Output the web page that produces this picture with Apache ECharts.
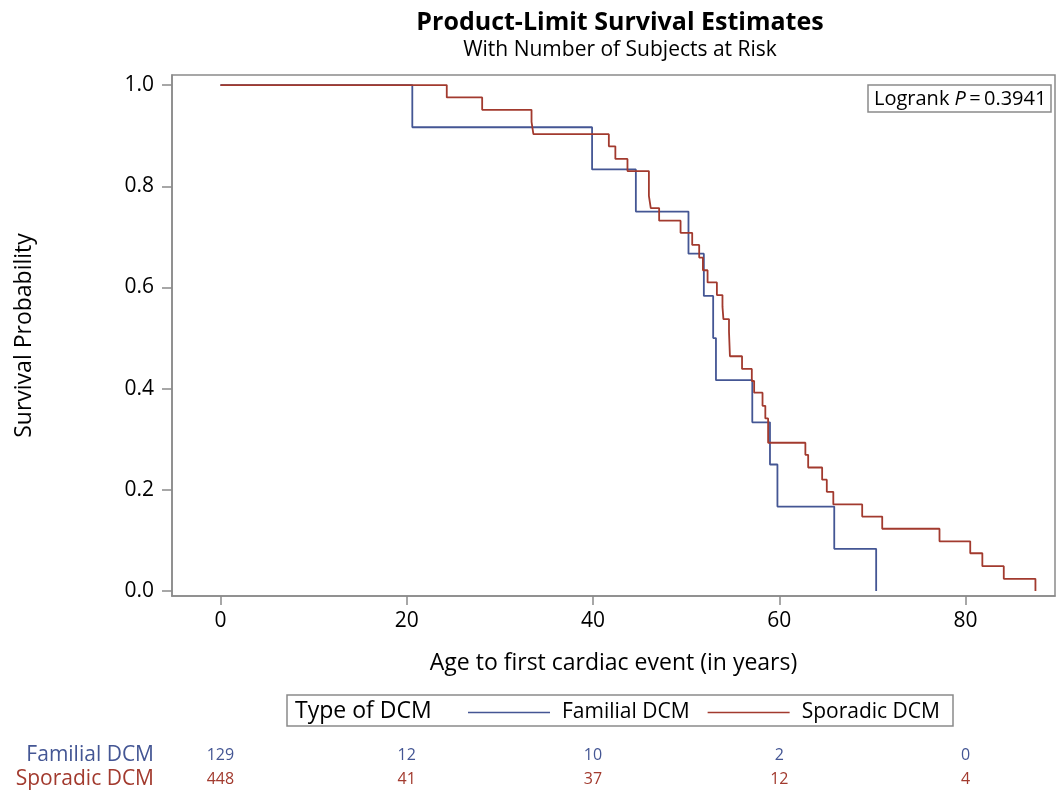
<!DOCTYPE html>
<html>
<head>
<meta charset="utf-8">
<script src="https://cdn.jsdelivr.net/npm/echarts@6/dist/echarts.min.js"></script>
<style>
html,body{margin:0;padding:0;background:#fff;}
#chart{width:1064px;height:794px;}
</style>
</head>
<body>
<div id="chart"></div>
<script>
// ---- Data ----
const familialTimes = [0, 20.6, 39.9, 44.6, 50.25, 51.9, 52.9, 53.2, 57.1, 59.0, 59.8, 65.9, 70.4];
const familialSurv  = [1, 0.9167, 0.8333, 0.75, 0.6667, 0.5833, 0.5, 0.4167, 0.3333, 0.25, 0.1667, 0.0833, 0];

const sporadicTimes = [0, 24.3, 28.1, 33.4, 33.6, 41.7, 42.4, 43.7, 46.0, 46.2, 47.1, 49.4, 50.65, 51.4, 51.8, 52.3, 53.3, 53.9, 54.0, 54.6, 54.7, 56.0, 57.05, 57.3, 58.2, 58.5, 58.8, 62.8, 63.1, 64.6, 65.1, 65.8, 68.9, 71.05, 77.2, 80.5, 81.8, 84.1, 87.5];
const sporadicSurv  = [1, 0.9756, 0.9512, 0.9275, 0.903, 0.879, 0.854, 0.830, 0.781, 0.757, 0.732, 0.708, 0.684, 0.659, 0.634, 0.610, 0.585, 0.562, 0.5375, 0.5125, 0.464, 0.439, 0.415, 0.392, 0.366, 0.341, 0.293, 0.269, 0.244, 0.220, 0.196, 0.171, 0.147, 0.123, 0.098, 0.0745, 0.049, 0.024, 0];

const xTicks = [0, 20, 40, 60, 80];
const yTicks = [0, 0.2, 0.4, 0.6, 0.8, 1.0];
const groups = ['Familial DCM', 'Sporadic DCM'];
const atRiskTimes = [0, 20, 40, 60, 80];
const atRiskFamilial = [129, 12, 10, 2, 0];
const atRiskSporadic = [448, 41, 37, 12, 4];

// ---- Build chart ----
const BLUE = '#445694', RED = '#A23A2E', GRAY = '#8a8a8a';
const FONT = 'Open Sans';
const pair = (t, s) => t.map((v, i) => [v, s[i]]);

const chart = echarts.init(document.getElementById('chart'), null, {renderer: 'canvas'});
chart.setOption({
  animation: false,
  textStyle: {fontFamily: FONT},
  grid: [
    {left: 172, right: 9, top: 75, bottom: 198, show: true, borderColor: GRAY, borderWidth: 1.5, containLabel: false},
    {left: 172, right: 9, top: 743, height: 48, show: false}
  ],
  xAxis: [
    {
      gridIndex: 0, type: 'value', min: -5.2, max: 89.6,
      name: 'Age to first cardiac event (in years)', nameLocation: 'middle', nameGap: 56,
      nameTextStyle: {fontSize: 23, color: '#000', fontFamily: FONT},
      axisLine: {show: true, onZero: false, lineStyle: {color: GRAY, width: 1.5}},
      axisTick: {show: true, length: 9, lineStyle: {color: GRAY, width: 1.5}, customValues: xTicks},
      axisLabel: {fontSize: 21, color: '#000', margin: 15, customValues: xTicks, fontFamily: FONT},
      splitLine: {show: false}
    },
    {gridIndex: 1, type: 'value', min: -5.2, max: 89.6, show: false}
  ],
  yAxis: [
    {
      gridIndex: 0, type: 'value', min: -0.01, max: 1.02,
      name: 'Survival Probability', nameLocation: 'middle', nameGap: 136, nameRotate: 90,
      nameTextStyle: {fontSize: 23, color: '#000', fontFamily: FONT},
      axisLine: {show: true, onZero: false, lineStyle: {color: GRAY, width: 1.5}},
      axisTick: {show: true, length: 10, lineStyle: {color: GRAY, width: 1.5}, customValues: yTicks},
      axisLabel: {fontSize: 21, color: '#000', margin: 18, customValues: yTicks, fontFamily: FONT,
        formatter: v => v.toFixed(1)},
      splitLine: {show: false}
    },
    {
      gridIndex: 1, type: 'category', data: groups, inverse: true,
      axisLine: {show: false}, axisTick: {show: false}, splitLine: {show: false},
      axisLabel: {fontSize: 21, margin: 18, interval: 0, fontFamily: FONT,
        color: (v) => (v === groups[0] ? BLUE : RED)}
    }
  ],
  legend: {
    data: groups, left: 468, top: 702, padding: 0,
    icon: 'rect', itemWidth: 82, itemHeight: 1.5, itemGap: 18,
    textStyle: {fontSize: 21, color: '#000', fontFamily: FONT, padding: [0, 0, 0, 7]}
  },
  series: [
    {
      name: groups[0], type: 'line', step: 'end', xAxisIndex: 0, yAxisIndex: 0,
      data: pair(familialTimes, familialSurv), showSymbol: false, symbol: 'none',
      lineStyle: {color: BLUE, width: 1.8}, itemStyle: {color: BLUE}, z: 2
    },
    {
      name: groups[1], type: 'line', step: 'end', xAxisIndex: 0, yAxisIndex: 0,
      data: pair(sporadicTimes, sporadicSurv), showSymbol: false, symbol: 'none',
      lineStyle: {color: RED, width: 1.8}, itemStyle: {color: RED}, z: 3
    },
    {
      name: 'riskF', type: 'scatter', xAxisIndex: 1, yAxisIndex: 1, symbolSize: 1,
      itemStyle: {color: 'rgba(0,0,0,0)', opacity: 1}, labelLayout: {hideOverlap: false},
      data: atRiskTimes.map((t, i) => [t, groups[0], atRiskFamilial[i]]),
      label: {show: true, position: 'inside', formatter: p => String(p.value[2]), color: BLUE, opacity: 1, fontSize: 16, fontFamily: FONT}
    },
    {
      name: 'riskS', type: 'scatter', xAxisIndex: 1, yAxisIndex: 1, symbolSize: 1,
      itemStyle: {color: 'rgba(0,0,0,0)', opacity: 1}, labelLayout: {hideOverlap: false},
      data: atRiskTimes.map((t, i) => [t, groups[1], atRiskSporadic[i]]),
      label: {show: true, position: 'inside', formatter: p => String(p.value[2]), color: RED, opacity: 1, fontSize: 16, fontFamily: FONT}
    }
  ],
  graphic: [
    {type: 'text', x: 620, y: 23, style: {text: 'Product-Limit Survival Estimates', fontSize: 25, fontWeight: 'bold',
      fontFamily: FONT, fill: '#000', textAlign: 'center', textVerticalAlign: 'middle'}},
    {type: 'text', x: 620, y: 50, style: {text: 'With Number of Subjects at Risk', fontSize: 21,
      fontFamily: FONT, fill: '#000', textAlign: 'center', textVerticalAlign: 'middle'}},
    {type: 'rect', shape: {x: 868, y: 85, width: 183, height: 27}, style: {fill: '#fff', stroke: GRAY, lineWidth: 1.5}, z: 10},
    {type: 'text', x: 874, y: 99, z: 11, style: {text: 'Logrank {i|P}\u2009=\u20090.3941', fontSize: 20, fontFamily: FONT,
      fill: '#000', textVerticalAlign: 'middle',
      rich: {i: {fontStyle: 'italic', fontSize: 20, fontFamily: FONT, fill: '#000'}}}},
    {type: 'rect', shape: {x: 287, y: 695, width: 666, height: 31}, style: {fill: 'none', stroke: GRAY, lineWidth: 1.5}},
    {type: 'text', x: 295, y: 711, style: {text: 'Type of DCM', fontSize: 23, fontFamily: FONT, fill: '#000', textVerticalAlign: 'middle'}}
  ]
});
</script>
</body>
</html>
